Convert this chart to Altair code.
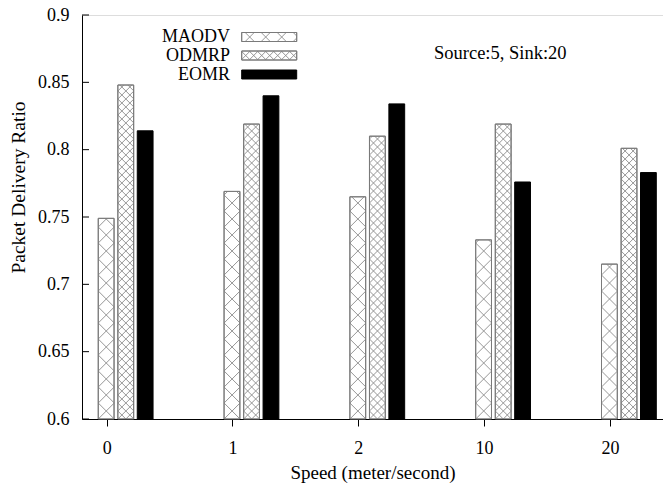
import altair as alt
import pandas as pd
import numpy as np

# ---- data ----
speeds = ["0", "1", "2", "10", "20"]
series = ["MAODV", "ODMRP", "EOMR"]
maodv = [0.749, 0.769, 0.765, 0.733, 0.715]
odmrp = [0.848, 0.819, 0.810, 0.819, 0.801]
eomr = [0.814, 0.840, 0.834, 0.776, 0.783]
y_ticks = [0.6, 0.65, 0.7, 0.75, 0.8, 0.85, 0.9]
note = "Source:5, Sink:20"

# ---- layout ----
W, H = 581, 404
XMIN, XMAX = -0.196, 4.422
YMIN, YMAX = 0.6, 0.9
sx = W / (XMAX - XMIN)
sy = H / (YMAX - YMIN)
FONT = "Liberation Serif"
FS = 18

bar_w_px = 15.8
offsets_px = {"MAODV": -8.4, "ODMRP": 11.2, "EOMR": 30.6}
periods = {"MAODV": 16.0, "ODMRP": 8.0}
fills = {"MAODV": "white", "ODMRP": "white", "EOMR": "black"}
strokes = {"MAODV": "#7a7a7a", "ODMRP": "#7a7a7a", "EOMR": "black"}


def hatch(w, h, p, c=0.0):
    segs = []
    kmin = int(np.floor(-w / p)) - 2
    kmax = int(np.ceil((h + w) / p)) + 2
    for k in range(kmin, kmax + 1):
        b = k * p + c
        xa, xb = max(0.0, -b), min(w, h - b)
        if xb - xa > 0.3:
            segs.append((xa, xa + b, xb, xb + b))
        xa, xb = max(0.0, b - h), min(w, b)
        if xb - xa > 0.3:
            segs.append((xa, -xa + b, xb, -xb + b))
    return segs


vals = {"MAODV": maodv, "ODMRP": odmrp, "EOMR": eomr}
bar_rows, hatch_rows = [], []
for s in series:
    for i, sp in enumerate(speeds):
        v = vals[s][i]
        x0 = i + offsets_px[s] / sx
        x1 = x0 + bar_w_px / sx
        bar_rows.append(dict(series=s, speed=sp, value=v, base=YMIN, x0=x0, x1=x1))
        if s in periods:
            h = (v - YMIN) * sy
            for (ax, ay, bx, by) in hatch(bar_w_px, h, periods[s]):
                hatch_rows.append(dict(series=s,
                                       hx=x0 + ax / sx, hy=YMIN + ay / sy,
                                       hx2=x0 + bx / sx, hy2=YMIN + by / sy))
bars = pd.DataFrame(bar_rows)
hatches = pd.DataFrame(hatch_rows)

# legend (pixel layout converted into plot coordinates)
leg_rows, leg_hatch, leg_text = [], [], []
leg_x, leg_w, leg_h = 159.7, 55.0, 9.0
leg_y = [22.0, 40.5, 59.5]
leg_shift = {"MAODV": -3.5, "ODMRP": 0.5}
for s, cy in zip(series, leg_y):
    top, bot = cy - leg_h / 2, cy + leg_h / 2
    leg_rows.append(dict(series=s, x0=XMIN + leg_x / sx, x1=XMIN + (leg_x + leg_w) / sx,
                         y0=YMAX - top / sy, y1=YMAX - bot / sy))
    leg_text.append(dict(series=s, tx=XMIN + 148 / sx, ty=YMAX - cy / sy))
    if s in periods:
        for (ax, ay, bx, by) in hatch(leg_w, leg_h, periods[s], leg_shift[s]):
            leg_hatch.append(dict(series=s,
                                  hx=XMIN + (leg_x + ax) / sx, hy=YMAX - (bot - ay) / sy,
                                  hx2=XMIN + (leg_x + bx) / sx, hy2=YMAX - (bot - by) / sy))
legend_df = pd.DataFrame(leg_rows)
legend_hatch = pd.DataFrame(leg_hatch)
legend_text = pd.DataFrame(leg_text)

xscale = alt.Scale(domain=[XMIN, XMAX], nice=False, zero=False)
yscale = alt.Scale(domain=[YMIN, YMAX], nice=False, zero=False)
fill_scale = alt.Scale(domain=series, range=[fills[s] for s in series])
stroke_scale = alt.Scale(domain=series, range=[strokes[s] for s in series])

label_expr = "[" + ",".join("'%s'" % s for s in speeds) + "][datum.value]"

x_axis = alt.Axis(values=list(range(len(speeds))), labelExpr=label_expr, title="Speed (meter/second)",
                  grid=False, tickSize=7, tickColor="black", domainColor="black", labelPadding=13,
                  labelFont=FONT, labelFontSize=FS, labelColor="black",
                  titleFont=FONT, titleFontSize=19, titleFontWeight="normal", titleColor="black",
                  titleY=53, titleBaseline="middle")
y_axis = alt.Axis(values=y_ticks, title="Packet Delivery Ratio", grid=False, ticks=False,
                  domainColor="black", labelPadding=13, format="~g",
                  labelFont=FONT, labelFontSize=FS, labelColor="black",
                  titleFont=FONT, titleFontSize=19.5, titleFontWeight="normal", titleColor="black",
                  titleX=-64, titleY=172, titleBaseline="middle", titleAlign="center")

bar_fill = alt.Chart(bars).mark_rect(strokeWidth=1, clip=True).encode(
    x=alt.X("x0:Q", scale=xscale, axis=x_axis),
    x2="x1:Q",
    y=alt.Y("value:Q", scale=yscale, axis=y_axis),
    y2="base:Q",
    fill=alt.Fill("series:N", scale=fill_scale, legend=None),
    stroke=alt.Stroke("series:N", scale=stroke_scale, legend=None),
)

hatch_layer = alt.Chart(hatches).mark_rule(color="#8a8a8a", strokeWidth=0.9).encode(
    x=alt.X("hx:Q", scale=xscale), y=alt.Y("hy:Q", scale=yscale), x2="hx2:Q", y2="hy2:Q"
)

bar_outline = alt.Chart(bars).transform_filter(alt.datum.series != "EOMR").mark_rect(
    fillOpacity=0, stroke="#7a7a7a", strokeWidth=1).encode(
    x=alt.X("x0:Q", scale=xscale), x2="x1:Q",
    y=alt.Y("value:Q", scale=yscale), y2="base:Q",
)

tick_df = pd.DataFrame({"t": y_ticks})
yticks_layer = alt.Chart(tick_df).mark_rule(color="black", strokeWidth=1).encode(
    y=alt.Y("t:Q", scale=yscale), x=alt.value(0), x2=alt.value(7)
)

leg_box = alt.Chart(legend_df).mark_rect(strokeWidth=1).encode(
    x=alt.X("x0:Q", scale=xscale), x2="x1:Q",
    y=alt.Y("y0:Q", scale=yscale), y2="y1:Q",
    fill=alt.Fill("series:N", scale=fill_scale, legend=None),
    stroke=alt.Stroke("series:N", scale=stroke_scale, legend=None),
)
leg_hatch_layer = alt.Chart(legend_hatch).mark_rule(color="#8a8a8a", strokeWidth=0.9).encode(
    x=alt.X("hx:Q", scale=xscale), y=alt.Y("hy:Q", scale=yscale), x2="hx2:Q", y2="hy2:Q"
)
leg_outline = alt.Chart(legend_df).transform_filter(alt.datum.series != "EOMR").mark_rect(
    fillOpacity=0, stroke="#7a7a7a", strokeWidth=1).encode(
    x=alt.X("x0:Q", scale=xscale), x2="x1:Q",
    y=alt.Y("y0:Q", scale=yscale), y2="y1:Q",
)
leg_labels = alt.Chart(legend_text).mark_text(
    align="right", baseline="middle", font=FONT, fontSize=FS, color="black").encode(
    x=alt.X("tx:Q", scale=xscale), y=alt.Y("ty:Q", scale=yscale), text="series:N"
)

note_layer = alt.Chart(pd.DataFrame({"note": [note]})).mark_text(
    align="left", baseline="middle", font=FONT, fontSize=18.5, color="black").encode(
    x=alt.value(352), y=alt.value(38), text="note:N"
)

chart = alt.layer(
    bar_fill, hatch_layer, bar_outline, yticks_layer,
    leg_box, leg_hatch_layer, leg_outline, leg_labels, note_layer
).properties(
    width=W, height=H,
    autosize=alt.AutoSizeParams(type="none"),
    padding={"left": 82, "top": 15, "right": 0, "bottom": 68},
).configure_view(stroke=None).configure(background="white")

chart.save("out.html", embed_options={"renderer": "svg", "actions": False})
